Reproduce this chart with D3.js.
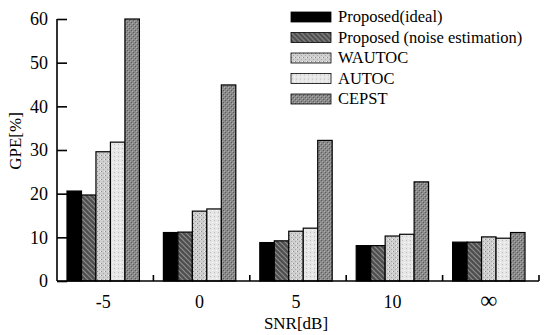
<!DOCTYPE html>
<html>
<head>
<meta charset="utf-8">
<script src="https://cdn.jsdelivr.net/npm/d3@7"></script>
<style>
  body { margin: 0; background: #fff; }
  text { font-family: "Liberation Serif", "DejaVu Serif", serif; fill: #000; }
</style>
</head>
<body>
<div id="chart"></div>
<script>
// values
const snrLabels = ['-5', '0', '5', '10', '\u221E'];
const methods = ['Proposed(ideal)', 'Proposed (noise estimation)', 'WAUTOC', 'AUTOC', 'CEPST'];
const idealVals = [20.6, 11.1, 8.8, 8.1, 8.9];
const noiseEstVals = [19.7, 11.2, 9.2, 8.1, 8.9];
const wautocVals = [29.6, 16.0, 11.4, 10.3, 10.1];
const autocVals = [31.8, 16.5, 12.1, 10.7, 9.8];
const cepstVals = [60.0, 44.9, 32.2, 22.7, 11.1];
const yTicks = [0, 10, 20, 30, 40, 50, 60];

const series = [idealVals, noiseEstVals, wautocVals, autocVals, cepstVals];

const width = 548, height = 335;
const margin = {top: 19, right: 9, bottom: 54, left: 57};

const svg = d3.select('#chart').append('svg')
    .attr('width', width)
    .attr('height', height);

// textures for the grey fills
const defs = svg.append('defs');

function addPattern(id, base, draw) {
    let p = defs.append('pattern')
        .attr('id', id)
        .attr('patternUnits', 'userSpaceOnUse')
        .attr('width', 4).attr('height', 4);
    p.append('rect').attr('width', 4).attr('height', 4).attr('fill', base);
    draw(p);
}

addPattern('pBlack', '#000', function(p) {});
addPattern('pHatch', '#4e4e4e', function(p) {
    p.attr('width', 5).attr('height', 5);
    p.select('rect').attr('width', 5).attr('height', 5);
    p.append('path').attr('d', 'M0,0 L5,5 M-1,4 L1,6 M4,-1 L6,1')
        .attr('stroke', '#8c8c8c').attr('stroke-width', 1.2);
});
addPattern('pDots', '#cfcfcf', function(p) {
    p.append('rect').attr('x', 0).attr('y', 0).attr('width', 1).attr('height', 1).attr('fill', '#8a8a8a');
    p.append('rect').attr('x', 2).attr('y', 2).attr('width', 1).attr('height', 1).attr('fill', '#a5a5a5');
    p.append('rect').attr('x', 3).attr('y', 0).attr('width', 1).attr('height', 1).attr('fill', '#f0f0f0');
});
addPattern('pLight', '#e6e6e6', function(p) {
    p.append('rect').attr('x', 1).attr('y', 1).attr('width', 1).attr('height', 1).attr('fill', '#bdbdbd');
    p.append('rect').attr('x', 3).attr('y', 3).attr('width', 1).attr('height', 1).attr('fill', '#fafafa');
});
addPattern('pNoise', '#8a8a8a', function(p) {
    p.append('rect').attr('x', 0).attr('y', 1).attr('width', 1).attr('height', 1).attr('fill', '#5a5a5a');
    p.append('rect').attr('x', 2).attr('y', 3).attr('width', 1).attr('height', 1).attr('fill', '#5a5a5a');
    p.append('rect').attr('x', 3).attr('y', 0).attr('width', 1).attr('height', 1).attr('fill', '#b0b0b0');
    p.append('rect').attr('x', 1).attr('y', 2).attr('width', 1).attr('height', 1).attr('fill', '#a8a8a8');
});

const fills = ['url(#pBlack)', 'url(#pHatch)', 'url(#pDots)', 'url(#pLight)', 'url(#pNoise)'];

const plotW = width - margin.left - margin.right;
const plotH = height - margin.top - margin.bottom;

const g = svg.append('g')
    .attr('transform', 'translate(' + margin.left + ',' + margin.top + ')');

let x0 = d3.scaleBand()
    .domain(snrLabels)
    .range([0, plotW])
    .paddingInner(0)
    .paddingOuter(0);

let x1 = d3.scaleBand()
    .domain(d3.range(methods.length))
    .range([10, x0.bandwidth() - 14]);

let y = d3.scaleLinear()
    .domain([0, 60])
    .range([plotH, 0]);

let bars = [];
snrLabels.forEach(function(s, i) {
    series.forEach(function(vals, j) {
        bars.push({snr: s, m: j, v: vals[i]});
    });
});

g.selectAll('rect.bar')
    .data(bars)
    .enter()
    .append('rect')
    .attr('class', 'bar')
    .attr('x', d => x0(d.snr) + x1(d.m))
    .attr('y', d => y(d.v))
    .attr('width', x1.bandwidth())
    .attr('height', d => plotH - y(d.v))
    .attr('fill', d => fills[d.m])
    .attr('stroke', '#000')
    .attr('stroke-width', 1.2);

// y axis, ticks pointing inward
let yAxis = d3.axisRight(y).tickValues(yTicks).tickSize(10).tickFormat(d3.format('d'));
let yg = g.append('g').call(yAxis);
yg.select('.domain').attr('d', 'M0,' + y(60) + 'V' + plotH).attr('stroke-width', 1.6);
yg.selectAll('.tick line').attr('stroke-width', 1.6);
yg.selectAll('.tick text')
    .attr('x', -9)
    .attr('text-anchor', 'end')
    .attr('font-size', '18px')
    .attr('font-family', '"Liberation Serif", serif');

// x axis with small upward ticks between groups
let xg = g.append('g').attr('transform', 'translate(0,' + plotH + ')');
xg.append('line')
    .attr('x1', 0).attr('x2', plotW)
    .attr('stroke', '#000').attr('stroke-width', 1.6);
xg.selectAll('line.sep')
    .data(snrLabels)
    .enter()
    .append('line')
    .attr('class', 'sep')
    .attr('x1', d => x0(d) + x0.bandwidth())
    .attr('x2', d => x0(d) + x0.bandwidth())
    .attr('y1', 0).attr('y2', -6)
    .attr('stroke', '#000').attr('stroke-width', 1.6);
xg.selectAll('text.lab')
    .data(snrLabels)
    .enter()
    .append('text')
    .attr('class', 'lab')
    .attr('x', d => x0(d) + x1(2) + x1.bandwidth() / 2)
    .attr('y', 27)
    .attr('text-anchor', 'middle')
    .attr('font-size', d => d === '\u221E' ? '24px' : '18px')
    .text(d => d);

svg.append('text')
    .attr('x', 296)
    .attr('y', 329)
    .attr('text-anchor', 'middle')
    .attr('font-size', '17px')
    .text('SNR[dB]');

svg.append('text')
    .attr('transform', 'translate(21,141) rotate(-90)')
    .attr('text-anchor', 'middle')
    .attr('font-size', '17px')
    .text('GPE[%]');

// legend
let legend = svg.append('g').attr('transform', 'translate(291,12)');
let items = legend.selectAll('g')
    .data(methods)
    .enter()
    .append('g')
    .attr('transform', (d, i) => 'translate(0,' + (i * 20.5) + ')');
items.append('rect')
    .attr('width', 40).attr('height', 10)
    .attr('fill', (d, i) => fills[i])
    .attr('stroke', '#000').attr('stroke-width', 0.8);
items.append('text')
    .attr('x', 47)
    .attr('y', 10)
    .attr('font-size', '16.5px')
    .text(d => d);
</script>
</body>
</html>
